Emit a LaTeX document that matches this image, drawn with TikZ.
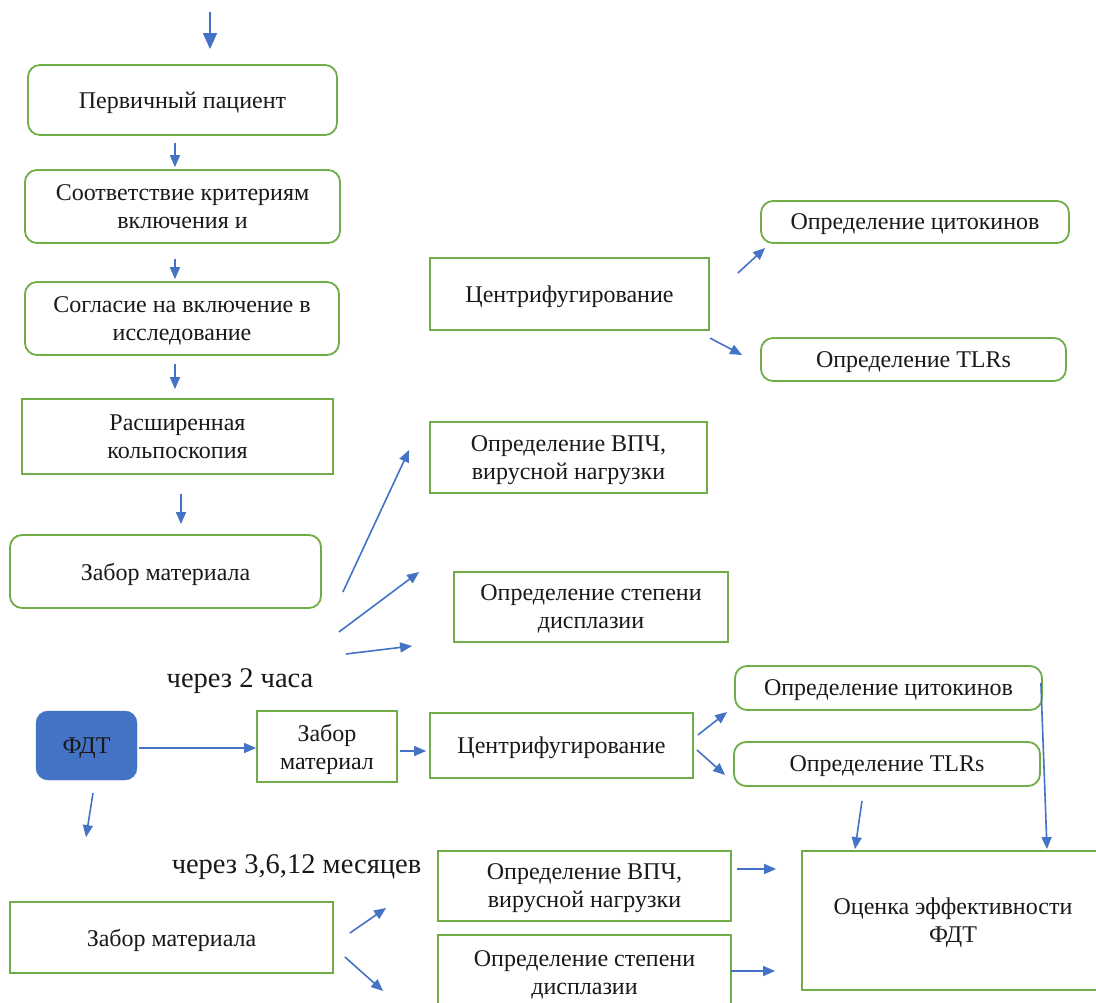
\documentclass[tikz,border=0pt]{standalone}
\usepackage{fontspec}
\setmainfont{Liberation Serif}
\usetikzlibrary{calc,arrows.meta}
\definecolor{gr}{HTML}{70AD47}
\definecolor{bl}{HTML}{4472C4}
\tikzset{
  box/.style={draw=gr, line width=1.8pt, fill=white, inner sep=2pt, align=center,
    font=\fontsize{24}{28}\selectfont, text=black!90, text depth=0pt},
  rbox/.style={box, rounded corners=12pt},
  arr/.style={draw=bl, line width=1.6pt, -{Triangle[length=12pt,width=10pt]}},
  bigarr/.style={draw=bl, line width=1.6pt, -{Triangle[length=16pt,width=14pt]}},
  lbl/.style={font=\fontsize{28.5}{32}\selectfont, text=black!90, inner sep=0pt}
}
\begin{document}
\begin{tikzpicture}[x=1pt,y=-1pt]
\useasboundingbox (0,0) rectangle (1096,1003);
% left column
\node[rbox, minimum width=309, minimum height=70] (b1) at (182.5,100) {Первичный пациент};
\node[rbox, minimum width=315, minimum height=73] (b2) at (182.5,206.5) {Соответствие критериям\\включения и};
\node[rbox, minimum width=314, minimum height=73] (b3) at (182,318.5) {Согласие на включение в\\исследование};
\node[box, minimum width=311, minimum height=75] (b4) at (177.5,436.5) {Расширенная\\кольпоскопия};
\node[rbox, minimum width=311, minimum height=73] (b5) at (165.5,571.5) {Забор материала};
% upper right group
\node[box, minimum width=279, minimum height=72] (c1) at (569.5,294) {Центрифугирование};
\node[rbox, minimum width=308, minimum height=42] (k1) at (915,222) {Определение цитокинов};
\node[rbox, minimum width=305, minimum height=43] (t1) at (913.5,359.5) {Определение TLRs};
\node[box, minimum width=277, minimum height=71] (v1) at (568.5,457.5) {Определение ВПЧ,\\вирусной нагрузки};
\node[box, minimum width=274, minimum height=70] (d1) at (591,607) {Определение степени\\дисплазии};
% labels
\node[lbl] (l1) at (240,681) {через 2 часа};
\node[lbl] (l2) at (296.5,867) {через 3,6,12 месяцев};
% FDT row
\node[draw=bl, fill=bl, rounded corners=12pt, minimum width=101, minimum height=69,
  font=\fontsize{24}{28}\selectfont, text=black!90, text depth=0pt] (fdt) at (86.5,745.5) {ФДТ};
\node[box, minimum width=140, minimum height=71] (z2) at (327,746.5) {Забор\\материал};
\node[box, minimum width=263, minimum height=65] (c2) at (561.5,745.5) {Центрифугирование};
\node[rbox, minimum width=307, minimum height=44] (k2) at (888.5,688) {Определение цитокинов};
\node[rbox, minimum width=306, minimum height=44] (t2) at (887,764) {Определение TLRs};
% bottom
\node[box, minimum width=323, minimum height=71] (z3) at (171.5,937.5) {Забор материала};
\node[box, minimum width=293, minimum height=70] (v2) at (584.5,886) {Определение ВПЧ,\\вирусной нагрузки};
\node[box, minimum width=293, minimum height=75] (d2) at (584.5,972.5) {Определение степени\\дисплазии};
\node[box, minimum width=302, minimum height=139] (o) at (953,920.5) {Оценка эффективности\\ФДТ};
% arrows
\coordinate (in) at (210,12);
\draw[bigarr] (in) -- ($(b1.north)+(27.5,-15)$);
\draw[arr] ($(b1.south)+(-7.5,7)$) -- ($(b2.north)+(-7.5,-2)$);
\draw[arr] ($(b2.south)+(-7.5,15)$) -- ($(b3.north)+(-7,-2)$);
\draw[arr] ($(b3.south)+(-7,8)$) -- ($(b4.north)+(-2.5,-9)$);
\draw[arr] ($(b4.south)+(3.5,19)$) -- ($(b5.north)+(15.5,-10)$);
\draw[arr] ($(b5.east)+(21,20.5)$) -- ($(v1.west)+(-20,-7.5)$);
\draw[arr] ($(b5.east)+(17,60.5)$) -- ($(d1.west)+(-34,-35)$);
\draw[arr] ($(b5.east)+(24,82.5)$) -- ($(d1.west)+(-41,39)$);
\draw[arr] ($(c1.east)+(28,-21)$) -- ($(k1.west)+(5,26)$);
\draw[arr] ($(c1.east)+(0,44)$) -- ($(t1.west)+(-18,-4.5)$);
\draw[arr] ($(fdt.east)+(2,2.5)$) -- ($(z2.west)+(0,1.5)$);
\draw[arr] ($(z2.east)+(2,4.5)$) -- ($(c2.west)+(-3,5.5)$);
\draw[arr] ($(c2.east)+(4,-10.5)$) -- ($(k2.west)+(-7,24)$);
\draw[arr] ($(c2.east)+(3,4.5)$) -- ($(t2.west)+(-8,11)$);
\draw[arr] ($(t2.south)+(-25,14)$) -- ($(o.north)+(-98,-1)$);
\draw[arr] ($(k2.east)+(-2,-5)$) -- ($(o.north)+(94,-1)$);
\draw[arr] ($(fdt.south)+(6.5,13)$) -- ($(z3.north)+(-85.5,-64)$);
\draw[arr] ($(z3.east)+(16,-4.5)$) -- ($(v2.west)+(-51,22)$);
\draw[arr] ($(z3.east)+(11,19.5)$) -- ($(d2.west)+(-54,18.5)$);
\draw[arr] ($(v2.east)+(5,-17)$) -- ($(o.west)+(-25,-51.5)$);
\draw[arr] ($(d2.east)+(-1,-1.5)$) -- ($(o.west)+(-26,50.5)$);
\end{tikzpicture}
\end{document}
